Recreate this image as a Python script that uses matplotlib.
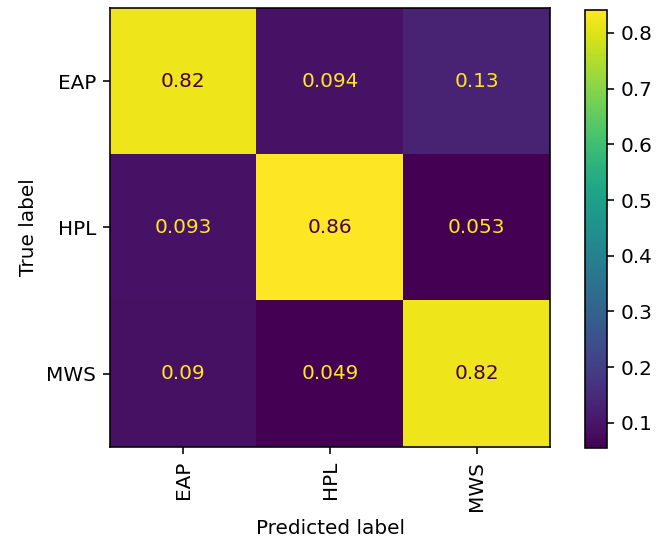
import numpy as np
import matplotlib.pyplot as plt

labels = ['EAP', 'HPL', 'MWS']
cm = np.array([
    [0.82, 0.094, 0.13],
    [0.093, 0.86, 0.053],
    [0.09, 0.049, 0.82],
])

W, H = 656, 540
fig = plt.figure(figsize=(W/144, H/144), dpi=144)
ax = fig.add_axes([110/W, 1 - 447/H, 440/W, 439/H])
cax = fig.add_axes([585/W, 1 - 448/H, 22/W, 438/H])

cmap = plt.get_cmap('viridis')
im = ax.imshow(cm, cmap=cmap, interpolation='nearest', aspect='auto',
               vmin=0.055, vmax=0.841)
cbar = fig.colorbar(im, cax=cax)
cbar.set_ticks([0.1, 0.2, 0.3, 0.4, 0.5, 0.6, 0.7, 0.8])

thresh = (cm.max() + cm.min()) / 2.0
for i in range(cm.shape[0]):
    for j in range(cm.shape[1]):
        color = cmap(0) if cm[i, j] > thresh else cmap(1.0)
        ax.text(j, i, format(cm[i, j], '.2g'), ha='center', va='center', color=color)

ax.set_xticks(range(len(labels)))
ax.set_yticks(range(len(labels)))
ax.set_xticklabels(labels, rotation=90)
ax.set_yticklabels(labels)
ax.set_xlabel('Predicted label')
ax.set_ylabel('True label')

fig.savefig('out.png', dpi=144)
